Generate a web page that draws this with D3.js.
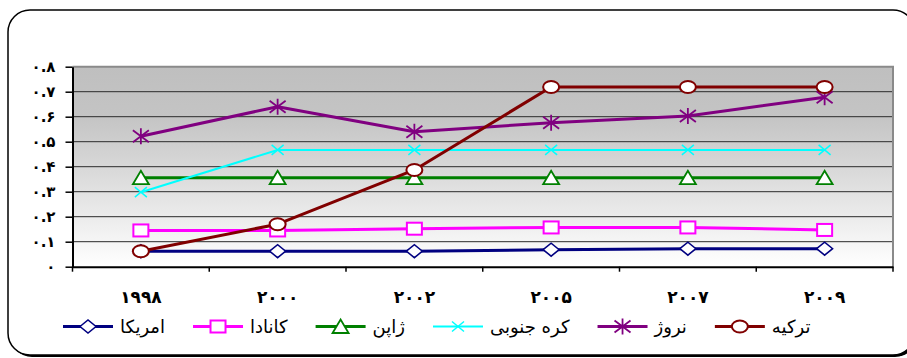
<!DOCTYPE html>
<html>
<head>
<meta charset="utf-8">
<script src="https://cdn.jsdelivr.net/npm/d3@7"></script>
<style>
  html, body { margin: 0; padding: 0; background: #fff; }
  svg { display: block; }
  text { font-family: "DejaVu Sans", sans-serif; }
</style>
</head>
<body>
<svg id="chart" width="907" height="358"></svg>
<script>
// Years on the category axis
const years = ["۱۹۹۸", "۲۰۰۰", "۲۰۰۲", "۲۰۰۵", "۲۰۰۷", "۲۰۰۹"];

// Series names (legend order)
const seriesNames = ["امریکا", "کانادا", "ژاپن", "کره جنوبی", "نروژ", "ترکیه"];

// Values per country
const usa        = [0.062, 0.062, 0.062, 0.068, 0.072, 0.072];
const canada     = [0.145, 0.145, 0.152, 0.157, 0.157, 0.147];
const japan      = [0.356, 0.356, 0.356, 0.356, 0.356, 0.356];
const southKorea = [0.298, 0.467, 0.467, 0.467, 0.467, 0.467];
const norway     = [0.522, 0.640, 0.540, 0.576, 0.603, 0.678];
const turkey     = [0.062, 0.170, 0.387, 0.719, 0.719, 0.719];

// Value axis ticks and their labels
const yTicks = [0, 0.1, 0.2, 0.3, 0.4, 0.5, 0.6, 0.7, 0.8];
const yTickLabels = ["۰", "۰.۱", "۰.۲", "۰.۳", "۰.۴", "۰.۵", "۰.۶", "۰.۷", "۰.۸"];

const seriesValues = [usa, canada, japan, southKorea, norway, turkey];
const colors = ["#000080", "#ff00ff", "#008000", "#00ffff", "#800080", "#800000"];
const markers = ["diamond", "square", "triangle", "cross", "star", "circle"];
const widths = [3, 3, 3, 2, 3, 3];

const svg = d3.select("#chart");

// Outer frame with a small drop shadow
svg.append("rect").attr("x", 10).attr("y", 12).attr("width", 907).attr("height", 345)
  .attr("rx", 22).attr("fill", "#000");
svg.append("rect").attr("x", 8).attr("y", 10).attr("width", 907).attr("height", 345)
  .attr("rx", 22).attr("fill", "#fff").attr("stroke", "#000").attr("stroke-width", 1.5);

const plot = { left: 72.5, right: 893, top: 66.7, bottom: 266.7 };

const x = d3.scaleBand().domain(years).range([plot.left, plot.right]).padding(0);
const y = d3.scaleLinear().domain([0, 0.8]).range([plot.bottom, plot.top]);
const cx = d => x(d) + x.bandwidth() / 2;

// Plot background gradient
const defs = svg.append("defs");
const grad = defs.append("linearGradient").attr("id", "bg").attr("x1", 0).attr("y1", 0).attr("x2", 0).attr("y2", 1);
grad.append("stop").attr("offset", "0%").attr("stop-color", "#bfbfbf");
grad.append("stop").attr("offset", "25%").attr("stop-color", "#c4c4c4");
grad.append("stop").attr("offset", "100%").attr("stop-color", "#ffffff");

svg.append("rect")
  .attr("x", plot.left).attr("y", plot.top)
  .attr("width", plot.right - plot.left).attr("height", plot.bottom - plot.top)
  .attr("fill", "url(#bg)");

// Horizontal gridlines
svg.append("g").selectAll("line")
  .data(yTicks.filter(v => v > 0 && v < 0.8))
  .join("line")
  .attr("x1", plot.left).attr("x2", plot.right)
  .attr("y1", d => y(d)).attr("y2", d => y(d))
  .attr("stroke", "#2a2a2a").attr("stroke-width", 1);

// Plot border: top and right edges in gray
svg.append("path")
  .attr("d", `M${plot.left},${y(0.8)}H${plot.right}V${plot.bottom}`)
  .attr("fill", "none").attr("stroke", "#8a8a8a").attr("stroke-width", 2);

// Value axis
const yAxis = d3.axisLeft(y).tickValues(yTicks)
  .tickFormat((d, i) => yTickLabels[i]).tickSize(7).tickPadding(10).tickSizeOuter(0);
const yg = svg.append("g").attr("transform", `translate(${plot.left},0)`).call(yAxis);
yg.select(".domain").attr("stroke", "#000").attr("stroke-width", 2);
yg.selectAll(".tick line").attr("stroke", "#000").attr("stroke-width", 1.5);
yg.selectAll(".tick text").attr("font-size", 15).attr("font-weight", "bold").attr("fill", "#000")
  .attr("direction", "ltr");

// Category axis: labels at band centres, tick marks on band boundaries
const xAxis = d3.axisBottom(x).tickSize(0).tickPadding(24).tickSizeOuter(0);
const xg = svg.append("g").attr("transform", `translate(0,${plot.bottom})`).call(xAxis);
xg.select(".domain").attr("stroke", "#000").attr("stroke-width", 2);
xg.selectAll(".tick text").attr("font-size", 17).attr("font-weight", "bold").attr("fill", "#000");

const boundaries = years.map(d => x(d)).concat([x(years[years.length - 1]) + x.bandwidth()]);
svg.append("g").selectAll("line").data(boundaries).join("line")
  .attr("x1", d => d).attr("x2", d => d)
  .attr("y1", plot.bottom).attr("y2", plot.bottom + 5)
  .attr("stroke", "#000").attr("stroke-width", 1.5);

// Marker drawing
function drawMarker(g, type, color) {
  switch (type) {
    case "diamond":
      g.append("path").attr("d", "M-8,0L0,-6.5L8,0L0,6.5Z")
        .attr("fill", "#fff").attr("stroke", color).attr("stroke-width", 1.5);
      break;
    case "square":
      g.append("rect").attr("x", -7.5).attr("y", -6).attr("width", 15).attr("height", 12)
        .attr("fill", "#fff").attr("stroke", color).attr("stroke-width", 2);
      break;
    case "triangle":
      g.append("path").attr("d", "M-8,6.5L0,-7L8,6.5Z")
        .attr("fill", "#fff").attr("stroke", color).attr("stroke-width", 1.8);
      break;
    case "cross":
      g.append("path").attr("d", "M-6,-5L6,5M-6,5L6,-5")
        .attr("fill", "none").attr("stroke", color).attr("stroke-width", 1.5);
      break;
    case "star":
      g.append("path").attr("d", "M-8,-6L8,6M-8,6L8,-6M0,-8L0,8")
        .attr("fill", "none").attr("stroke", color).attr("stroke-width", 1.8);
      break;
    case "circle":
      g.append("ellipse").attr("rx", 8).attr("ry", 6)
        .attr("fill", "#fff").attr("stroke", color).attr("stroke-width", 2);
      break;
  }
}

// Series lines with markers
const line = d3.line().x((d, i) => cx(years[i])).y(d => y(d));
seriesValues.forEach((vals, s) => {
  const g = svg.append("g");
  g.append("path").datum(vals).attr("d", line)
    .attr("fill", "none").attr("stroke", colors[s]).attr("stroke-width", widths[s])
    .attr("stroke-linejoin", "round");
  vals.forEach((v, i) => {
    const m = g.append("g").attr("transform", `translate(${cx(years[i])},${y(v)})`);
    drawMarker(m, markers[s], colors[s]);
  });
});

// Legend
const legendY = 326.5;
let lx = 63;
seriesNames.forEach((name, s) => {
  const g = svg.append("g");
  g.append("line").attr("x1", lx).attr("x2", lx + 50).attr("y1", legendY).attr("y2", legendY)
    .attr("stroke", colors[s]).attr("stroke-width", widths[s]);
  const m = g.append("g").attr("transform", `translate(${lx + 25},${legendY})`);
  drawMarker(m, markers[s], colors[s]);
  const t = g.append("text").attr("x", lx + 57).attr("y", legendY + 6)
    .attr("font-size", 18).attr("fill", "#000").text(name);
  lx += 57 + t.node().getComputedTextLength() + 28;
});
</script>
</body>
</html>
